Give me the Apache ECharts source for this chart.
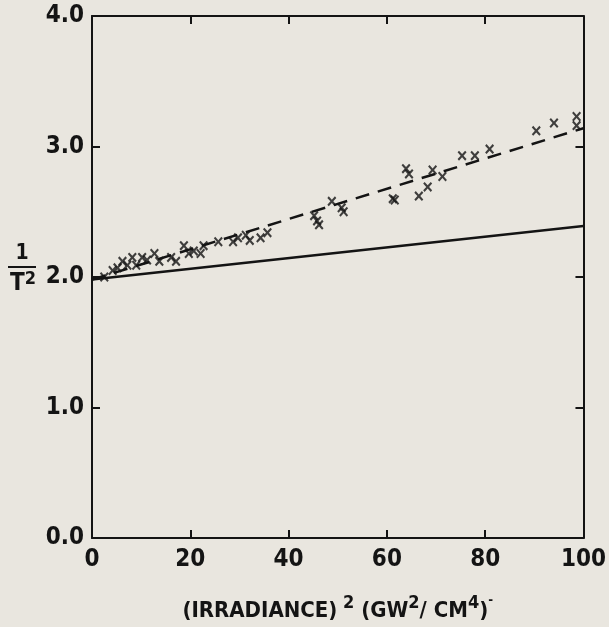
<!DOCTYPE html>
<html>
<head>
<meta charset="utf-8">
<script src="https://cdn.jsdelivr.net/npm/echarts@6/dist/echarts.min.js"></script>
<style>
html,body{margin:0;padding:0;background:#e9e6df;}
#c{width:609px;height:627px;}
</style>
</head>
<body>
<div id="c"></div>
<script>
// Measured points: [irradiance^2, 1/T^2]
const pointsX = [2.5, 4.2, 5.2, 6.2, 7.2, 8.2, 9.0, 10.2, 11.2, 12.7, 13.7, 16.1, 17.1, 18.7, 19.7, 20.7, 22.1, 22.7,
  25.7, 28.7, 29.7, 31.3, 32.1, 34.3, 35.7, 45.2, 45.8, 46.2, 48.8, 50.8, 51.2,
  61.2, 61.6, 63.9, 64.5, 66.5, 68.3, 69.3, 71.3, 75.3, 77.9, 80.9, 90.4, 94.0, 98.6, 98.6];
const pointsY = [2.00, 2.05, 2.07, 2.12, 2.09, 2.15, 2.09, 2.15, 2.13, 2.18, 2.12, 2.15, 2.12, 2.24, 2.18, 2.20, 2.18, 2.24,
  2.27, 2.27, 2.30, 2.32, 2.28, 2.30, 2.34, 2.47, 2.43, 2.40, 2.58, 2.53, 2.50,
  2.60, 2.59, 2.83, 2.79, 2.62, 2.69, 2.82, 2.77, 2.93, 2.93, 2.98, 3.12, 3.18, 3.23, 3.16];
// Theoretical (solid) and fitted (dashed) lines, endpoints
const solidX = [0, 100];
const solidY = [1.98, 2.39];
const dashedX = [0, 100];
const dashedY = [1.98, 3.14];
const xTicks = [0, 20, 40, 60, 80, 100];
const yTicks = [0.0, 1.0, 2.0, 3.0, 4.0];

const ink = '#141414';
const font = '"DejaVu Sans Condensed", "Liberation Sans Narrow", "Liberation Sans", sans-serif';
const zip = (a, b) => a.map((v, i) => [v, b[i]]);
const crossPath = 'path://M0,1.6L1.6,0L5,3.4L8.4,0L10,1.6L6.6,5L10,8.4L8.4,10L5,6.6L1.6,10L0,8.4L3.4,5Z';

const frameAxis = {
  axisLine: {show: true, onZero: false, lineStyle: {color: ink, width: 2}},
  axisTick: {show: true, inside: true, length: 8, lineStyle: {color: ink, width: 2}},
  splitLine: {show: false}
};

const chart = echarts.init(document.getElementById('c'), null, {renderer: 'canvas'});
chart.setOption({
  backgroundColor: '#e9e6df',
  animation: false,
  grid: {left: 92, right: 19, top: 16, bottom: 86, containLabel: false},
  xAxis: [Object.assign({
    type: 'value', min: 0, max: 100, interval: 20, position: 'bottom',
    axisLabel: {color: ink, fontFamily: font, fontWeight: 'bold', fontSize: 24, margin: 10,
      formatter: v => xTicks.includes(v) ? String(v) : ''},
    name: '{t|(IRRADIANCE)}{s| 2}{t| (GW}{s|2}{t|/ CM}{s|4}{t|)}{m|-}',
    nameLocation: 'middle', nameGap: 56,
    nameTextStyle: {
      rich: {
        t: {fontFamily: font, fontWeight: 'bold', fontSize: 22, color: ink, verticalAlign: 'bottom', lineHeight: 28},
        s: {fontFamily: font, fontWeight: 'bold', fontSize: 18, color: ink, verticalAlign: 'top', lineHeight: 28, padding: [0, 0, 10, 0]},
        m: {fontFamily: font, fontWeight: 'bold', fontSize: 13, color: ink, verticalAlign: 'top', lineHeight: 28, padding: [0, 0, 14, 0]}
      }
    }
  }, frameAxis), Object.assign({
    type: 'value', min: 0, max: 100, interval: 20, position: 'top',
    axisLabel: {show: false}
  }, frameAxis)],
  yAxis: [Object.assign({
    type: 'value', min: 0, max: 4, interval: 1, position: 'left',
    axisLabel: {color: ink, fontFamily: font, fontWeight: 'bold', fontSize: 24, margin: 8,
      formatter: v => yTicks.includes(v) ? v.toFixed(1) : ''},
    name: '{n|1}\n{b|  }\n{t|T}{s|2}',
    nameLocation: 'middle', nameRotate: 0, nameGap: 56,
    nameTextStyle: {
      padding: [0, 0, 14, 0],
      rich: {
        n: {fontFamily: font, fontWeight: 'bold', fontSize: 21, color: ink, align: 'center', lineHeight: 20},
        b: {width: 28, height: 2, backgroundColor: ink, lineHeight: 6, fontSize: 2},
        t: {fontFamily: font, fontWeight: 'bold', fontSize: 24, color: ink, lineHeight: 26, verticalAlign: 'bottom'},
        s: {fontFamily: font, fontWeight: 'bold', fontSize: 18, color: ink, lineHeight: 26, verticalAlign: 'top', padding: [0, 0, 10, 0]}
      }
    }
  }, frameAxis), Object.assign({
    type: 'value', min: 0, max: 4, interval: 1, position: 'right',
    axisLabel: {show: false}
  }, frameAxis)],
  series: [{
    type: 'line', data: zip(solidX, solidY), symbol: 'none',
    lineStyle: {color: ink, width: 2.5}, z: 3
  }, {
    type: 'line', data: zip(dashedX, dashedY), symbol: 'none',
    lineStyle: {color: ink, width: 2.5, type: [14, 9]}, z: 3
  }, {
    type: 'scatter', data: zip(pointsX, pointsY), symbol: crossPath, symbolSize: [9, 10],
    itemStyle: {color: ink}, z: 4
  }]
});
</script>
</body>
</html>
